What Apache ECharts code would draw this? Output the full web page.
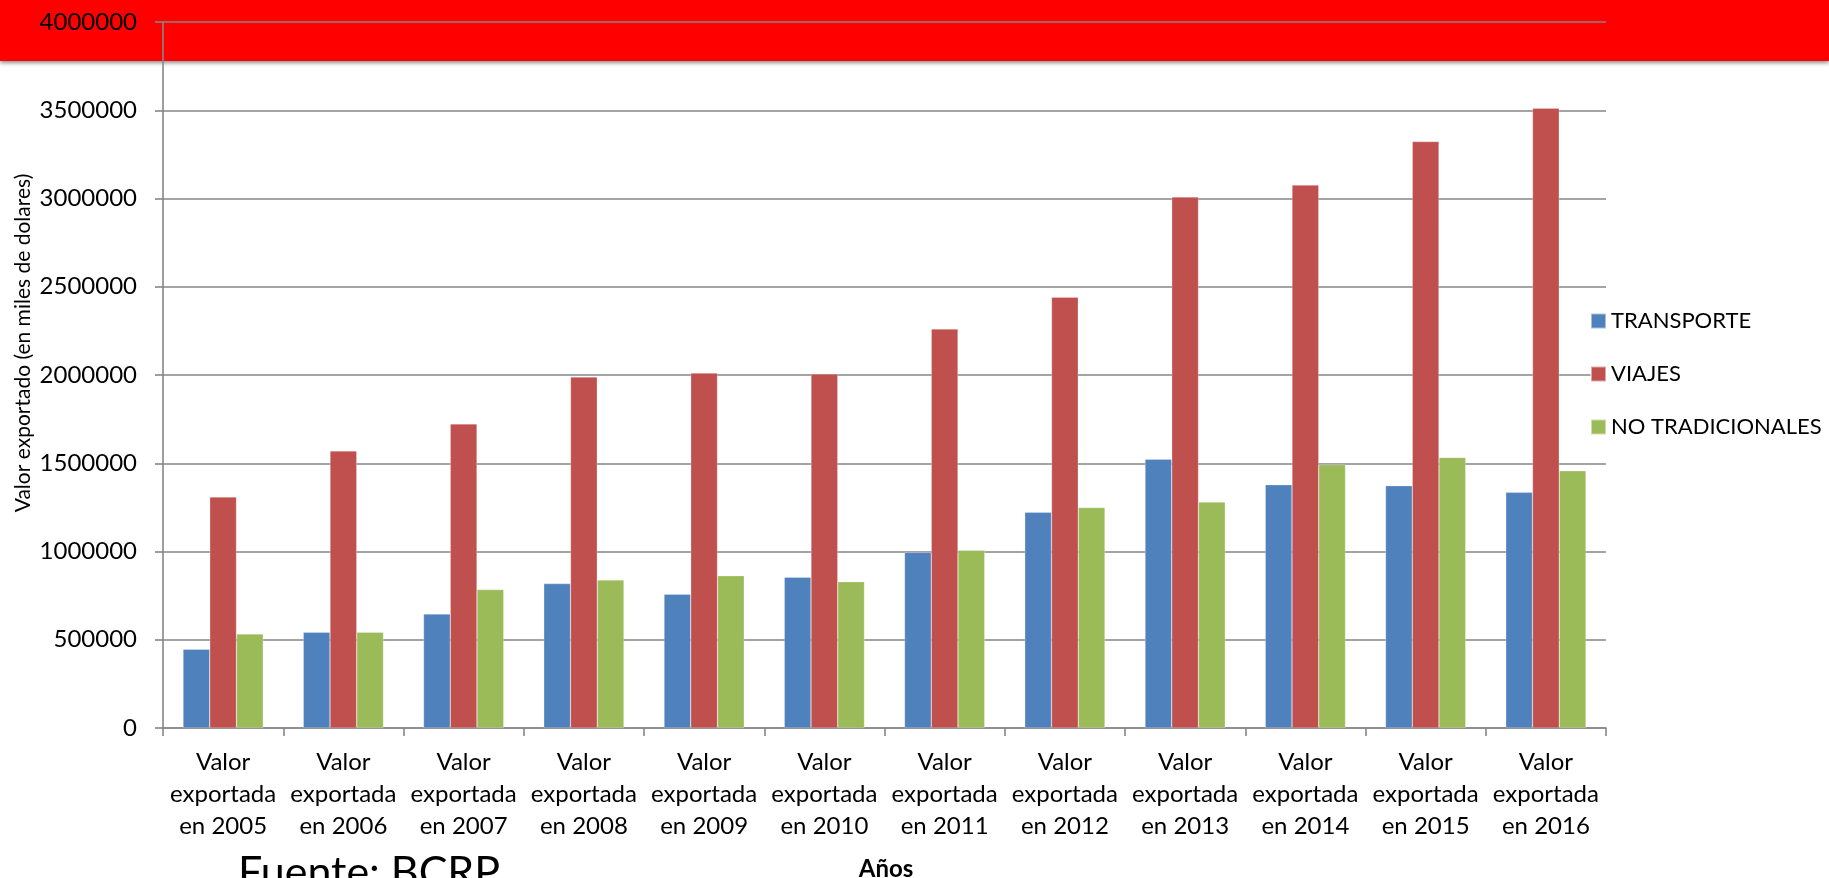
<!DOCTYPE html>
<html>
<head>
<meta charset="utf-8">
<script src="https://cdn.jsdelivr.net/npm/echarts@6/dist/echarts.min.js"></script>
<style>
html,body{margin:0;padding:0;background:#fff;}
#c{width:1829px;height:878px;}
</style>
</head>
<body>
<div id="c"></div>
<script>
var years = ['2005','2006','2007','2008','2009','2010','2011','2012','2013','2014','2015','2016'];
var categories = years.map(function(y){ return 'Valor\nexportada\nen ' + y; });
var seriesNames = ['TRANSPORTE', 'VIAJES', 'NO TRADICIONALES'];
var transporte = [446000, 542000, 646000, 818000, 758000, 854000, 995000, 1222000, 1523000, 1378000, 1373000, 1335000];
var viajes = [1309000, 1570000, 1723000, 1989000, 2011000, 2006000, 2261000, 2441000, 3009000, 3076000, 3323000, 3512000];
var noTradicionales = [533000, 542000, 784000, 839000, 863000, 829000, 1007000, 1249000, 1280000, 1492000, 1533000, 1457000];
var yTitle = 'Valor exportado (en miles de dolares)';
var xTitle = 'Años';
var sourceText = 'Fuente: BCRP';

var colors = ['#4F81BD', '#C0504D', '#9BBB59'];
var FONT = 'Lato';
var gridColor = '#868686';

var chart = echarts.init(document.getElementById('c'));
function bar(name, data){
  return {
    name: name, type: 'bar', data: data,
    barGap: '0%', barCategoryGap: '33.3%',
    itemStyle: { borderColor: 'rgba(255,255,255,0.5)', borderWidth: 0.5 }
  };
}
chart.setOption({
  animation: false,
  color: colors,
  textStyle: { fontFamily: FONT, color: '#000' },
  grid: { left: 163, right: 223, top: 22, bottom: 150, containLabel: false },
  legend: {
    orient: 'vertical', left: 1590, top: 310, padding: 0,
    itemWidth: 15, itemHeight: 15, itemGap: 31,
    icon: 'rect',
    textStyle: { fontFamily: FONT, fontSize: 22, color: '#000', lineHeight: 22 },
    data: seriesNames
  },
  xAxis: {
    type: 'category', data: categories,
    axisLine: { lineStyle: { color: gridColor, width: 1.6 } },
    axisTick: { show: true, length: 8, lineStyle: { color: gridColor, width: 1.6 } },
    axisLabel: { interval: 0, margin: 18, fontFamily: FONT, fontSize: 24, lineHeight: 32, color: '#000' },
    splitLine: { show: false }
  },
  yAxis: {
    type: 'value', min: 0, max: 4000000, interval: 500000,
    axisLine: { show: true, lineStyle: { color: gridColor, width: 1.6 } },
    axisTick: { show: true, length: 8, lineStyle: { color: gridColor, width: 1.6 } },
    axisLabel: { margin: 26, fontFamily: FONT, fontSize: 24, color: '#000',
      formatter: function(v){ return String(v); } },
    splitLine: { show: true, lineStyle: { color: gridColor, width: 1.6 } }
  },
  graphic: [
    { type: 'rect', z: -10, silent: true, shape: { x: 0, y: 0, width: 1829, height: 61 },
      style: { fill: '#FF0000', shadowBlur: 4, shadowOffsetY: 2, shadowColor: 'rgba(0,0,0,0.45)' } },
    { type: 'text', x: 23, y: 343, rotation: Math.PI / 2,
      style: { text: yTitle, font: '21px ' + FONT, fill: '#000', align: 'center', verticalAlign: 'middle' } },
    { type: 'text', x: 886, y: 869,
      style: { text: xTitle, font: 'bold 24px ' + FONT, fill: '#000', align: 'center', verticalAlign: 'middle' } },
    { type: 'text', x: 238, y: 873,
      style: { text: sourceText, font: '43px ' + FONT, fill: '#000', align: 'left', verticalAlign: 'middle' } }
  ],
  series: [
    bar(seriesNames[0], transporte),
    bar(seriesNames[1], viajes),
    bar(seriesNames[2], noTradicionales)
  ]
});
</script>
</body>
</html>
